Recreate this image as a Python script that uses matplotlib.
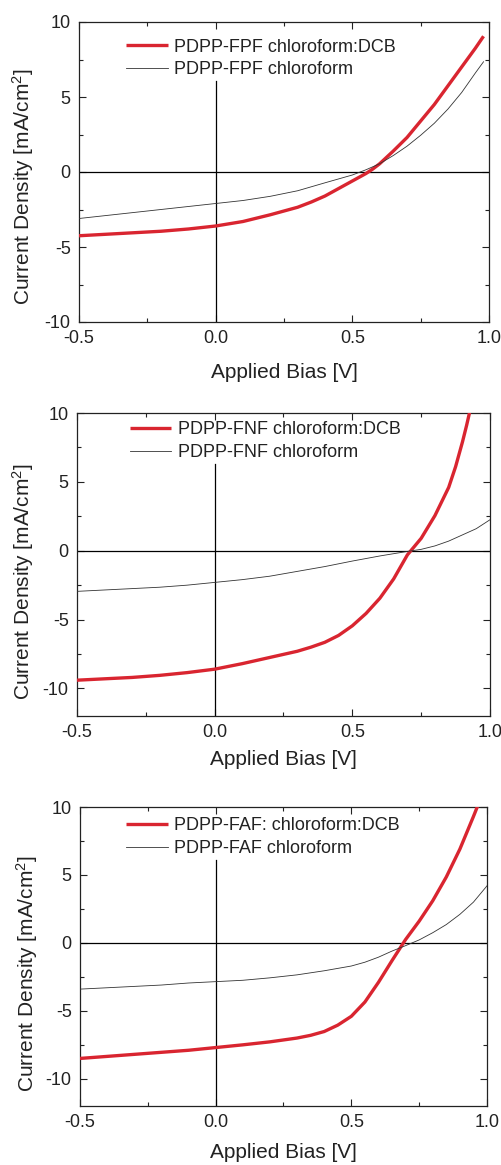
import matplotlib
matplotlib.use("Agg")
import matplotlib.pyplot as plt
from matplotlib.ticker import MultipleLocator

plt.rcParams['font.family'] = ['Liberation Sans', 'DejaVu Sans']
plt.rcParams['axes.unicode_minus'] = False
plt.rcParams['mathtext.fontset'] = 'custom'
plt.rcParams['mathtext.rm'] = 'Liberation Sans'
plt.rcParams['mathtext.it'] = 'Liberation Sans'

# ---------------- data ----------------
# Panel 1: PDPP-FPF
fpf_dcb_v = [-0.5, -0.4, -0.3, -0.2, -0.1, 0.0, 0.1, 0.2, 0.3, 0.35, 0.4, 0.45, 0.5, 0.525, 0.55,
             0.575, 0.6, 0.65, 0.7, 0.75, 0.8, 0.85, 0.9, 0.95, 0.98]
fpf_dcb_j = [-4.25, -4.15, -4.05, -3.95, -3.8, -3.6, -3.3, -2.85, -2.35, -2.0, -1.6, -1.1, -0.6, -0.35, -0.1,
             0.2, 0.55, 1.4, 2.3, 3.4, 4.5, 5.75, 7.0, 8.25, 9.05]
fpf_cf_v = [-0.5, -0.4, -0.3, -0.2, -0.1, 0.0, 0.1, 0.2, 0.3, 0.4, 0.5, 0.55,
            0.6, 0.65, 0.7, 0.75, 0.8, 0.85, 0.9, 0.95, 0.98]
fpf_cf_j = [-3.1, -2.9, -2.7, -2.5, -2.3, -2.1, -1.9, -1.62, -1.25, -0.72, -0.2, 0.15,
            0.55, 1.1, 1.72, 2.45, 3.25, 4.2, 5.3, 6.6, 7.35]

# Panel 2: PDPP-FNF
fnf_dcb_v = [-0.5, -0.4, -0.3, -0.2, -0.1, 0.0, 0.1, 0.2, 0.3, 0.35, 0.4, 0.45, 0.5, 0.55,
             0.6, 0.65, 0.7, 0.75, 0.8, 0.85, 0.875, 0.9, 0.915, 0.93]
fnf_dcb_j = [-9.4, -9.3, -9.2, -9.05, -8.85, -8.6, -8.2, -7.75, -7.3, -7.0, -6.65, -6.15, -5.45, -4.55,
             -3.45, -2.05, -0.3, 0.9, 2.55, 4.6, 6.1, 7.9, 9.1, 10.4]
fnf_cf_v = [-0.5, -0.4, -0.3, -0.2, -0.1, 0.0, 0.1, 0.2, 0.3, 0.4, 0.5, 0.6, 0.7,
            0.75, 0.8, 0.85, 0.9, 0.95, 1.0]
fnf_cf_j = [-2.95, -2.85, -2.75, -2.65, -2.5, -2.3, -2.1, -1.85, -1.5, -1.15, -0.75, -0.38, -0.05,
            0.1, 0.35, 0.7, 1.15, 1.6, 2.25]

# Panel 3: PDPP-FAF
faf_dcb_v = [-0.5, -0.4, -0.3, -0.2, -0.1, 0.0, 0.1, 0.2, 0.3, 0.35, 0.4, 0.45, 0.5, 0.55,
             0.6, 0.65, 0.7, 0.75, 0.8, 0.85, 0.9, 0.95, 0.97]
faf_dcb_j = [-8.5, -8.35, -8.2, -8.05, -7.9, -7.7, -7.5, -7.28, -7.0, -6.8, -6.52, -6.05, -5.4, -4.35,
             -2.9, -1.3, 0.25, 1.6, 3.1, 4.85, 6.9, 9.3, 10.3]
faf_cf_v = [-0.5, -0.4, -0.3, -0.2, -0.1, 0.0, 0.1, 0.2, 0.3, 0.4, 0.5, 0.55, 0.6,
            0.65, 0.7, 0.75, 0.8, 0.85, 0.9, 0.95, 1.0]
faf_cf_j = [-3.4, -3.3, -3.2, -3.1, -2.95, -2.85, -2.75, -2.57, -2.35, -2.05, -1.7, -1.42, -1.05,
            -0.6, -0.2, 0.22, 0.75, 1.35, 2.1, 3.0, 4.2]

labels_dcb = ["PDPP-FPF chloroform:DCB", "PDPP-FNF chloroform:DCB", "PDPP-FAF: chloroform:DCB"]
labels_cf = ["PDPP-FPF chloroform", "PDPP-FNF chloroform", "PDPP-FAF chloroform"]
y_limits = [(-10, 10), (-12, 10), (-12, 10)]
x_ticks = [-0.5, 0.0, 0.5, 1.0]
x_ticklabels = ["-0.5", "0.0", "0.5", "1.0"]
x_label = "Applied Bias [V]"
y_label = "Current Density [mA/cm$^2$]"

# ---------------- layout ----------------
W, H = 502, 1165
fig = plt.figure(figsize=(W / 100, H / 100), dpi=100)

# axes boxes in pixels: left, top, right, bottom
boxes = [(79, 22, 489, 322), (77, 413, 490, 716), (80, 807, 487, 1106)]
legend_anchor = [(0.115, 0.945), (0.128, 0.972), (0.113, 0.965)]
vline_top = [6.1, 6.3, 6.1]
ylabel_x = [23, 23, 27]
ylabel_yfrac = [0.45, 0.442, 0.441]
xlabel_yfrac = [-0.167, -0.145, -0.157]

red = '#d92530'
dark = '#333333'

data = [(fpf_dcb_v, fpf_dcb_j, fpf_cf_v, fpf_cf_j),
        (fnf_dcb_v, fnf_dcb_j, fnf_cf_v, fnf_cf_j),
        (faf_dcb_v, faf_dcb_j, faf_cf_v, faf_cf_j)]

for i in range(3):
    l, t, r, b = boxes[i]
    ax = fig.add_axes([l / W, 1 - b / H, (r - l) / W, (b - t) / H])
    dv, dj, cv, cj = data[i]
    ax.plot(dv, dj, color=red, lw=2.4, label=labels_dcb[i], zorder=3, solid_capstyle='butt',
            solid_joinstyle='round')
    ax.plot(cv, cj, color=dark, lw=0.6, label=labels_cf[i], zorder=3)
    ylo, yhi = y_limits[i]
    ax.axhline(0, color='black', lw=0.9, zorder=2)
    ax.plot([0, 0], [ylo, vline_top[i]], color='black', lw=0.9, zorder=2)
    ax.set_xlim(-0.5, 1.0)
    ax.set_ylim(ylo, yhi)
    ax.set_xticks(x_ticks)
    ax.set_xticklabels(x_ticklabels)
    ax.xaxis.set_minor_locator(MultipleLocator(0.25))
    ax.yaxis.set_major_locator(MultipleLocator(5))
    ax.yaxis.set_minor_locator(MultipleLocator(2.5))
    ax.tick_params(which='both', direction='in', top=True, right=True,
                   colors='#222222', width=0.8)
    ax.tick_params(which='major', length=5, labelsize=13, pad=6)
    ax.tick_params(which='minor', length=3)
    for s in ax.spines.values():
        s.set_linewidth(0.9)
        s.set_color('#222222')
    ax.set_xlabel(x_label, fontsize=15, color='#222222', va='center')
    ax.xaxis.set_label_coords(0.5, xlabel_yfrac[i])
    ax.set_ylabel(y_label, fontsize=15, color='#222222', va='center')
    ax.yaxis.set_label_coords((ylabel_x[i] - l) / (r - l), ylabel_yfrac[i])
    leg = ax.legend(loc='upper left', bbox_to_anchor=legend_anchor[i], frameon=False,
                    fontsize=13, handlelength=2.3, handletextpad=0.35,
                    borderpad=0, borderaxespad=0, labelspacing=0.3)
    for txt in leg.get_texts():
        txt.set_color('#222222')

fig.savefig("out.png", dpi=100)
